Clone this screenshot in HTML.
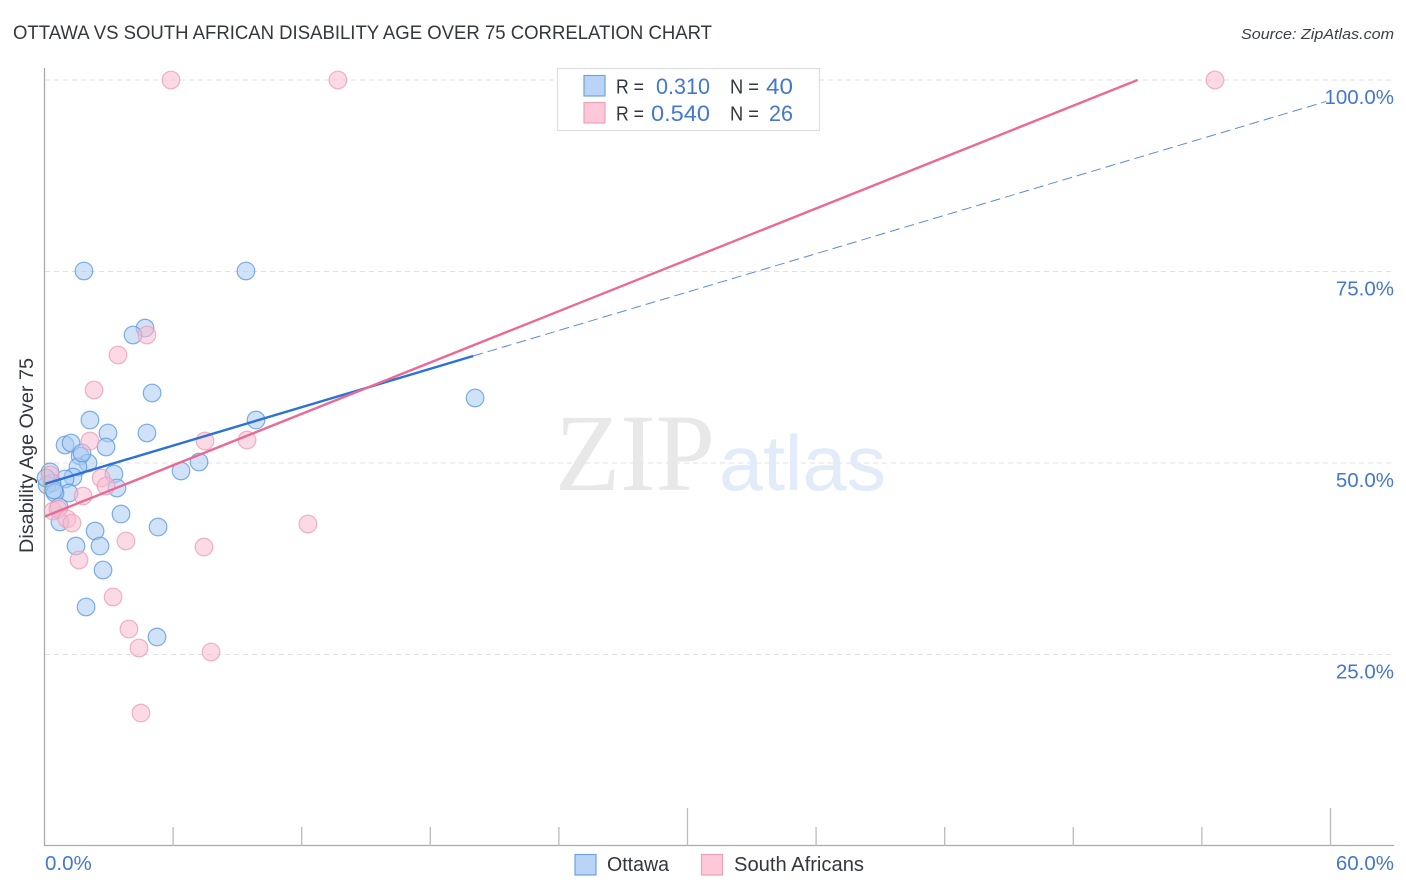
<!DOCTYPE html>
<html lang="en">
<head>
<meta charset="utf-8">
<title>Ottawa vs South African Disability Age Over 75 Correlation Chart</title>
<style>
html,body{margin:0;padding:0;background:#fff;width:1406px;height:892px;overflow:hidden}
svg{display:block}
text{font-family:"Liberation Sans",sans-serif}
</style>
</head>
<body>
<svg id="chart" width="1406" height="892" viewBox="0 0 1406 892" xmlns="http://www.w3.org/2000/svg">
  <text x="13" y="39" font-size="19" fill="#33373e" textLength="699" lengthAdjust="spacingAndGlyphs">OTTAWA VS SOUTH AFRICAN DISABILITY AGE OVER 75 CORRELATION CHART</text>
  <text x="1241" y="39" font-size="15" font-style="italic" fill="#3a3f46" textLength="153" lengthAdjust="spacingAndGlyphs">Source: ZipAtlas.com</text>

  <g id="grid"></g>

  <g>
    <text x="555" y="490" font-size="110" fill="#e8e8e8" style="font-family:'Liberation Serif',serif" textLength="160" lengthAdjust="spacingAndGlyphs">ZIP</text>
    <text x="719" y="490" font-size="78" fill="#e2ebf9" textLength="167" lengthAdjust="spacingAndGlyphs">atlas</text>
  </g>

  <g id="points"></g>
  <g id="trends"></g>
  <g id="axes"></g>
  <g id="ylabels"></g>
  <g id="xlabels"></g>

  <text transform="translate(33,553) rotate(-90)" font-size="19" fill="#33373e" textLength="195" lengthAdjust="spacingAndGlyphs">Disability Age Over 75</text>

  <g>
    <rect x="557.5" y="68.5" width="262" height="62" fill="#fff" fill-opacity="0.9" stroke="#dedede" stroke-width="1.2"/>
    <rect x="584" y="75.5" width="21" height="20.5" fill="#b9d4f6" stroke="#6ea3e4" stroke-width="1.2"/>
    <rect x="584" y="102.5" width="21" height="20.5" fill="#fec8d9" stroke="#f0a0b8" stroke-width="1.2"/>
    <text x="616" y="93.5" font-size="20" fill="#33373e" textLength="28" lengthAdjust="spacingAndGlyphs">R =</text>
    <text x="656" y="94" font-size="22" fill="#4477d0" textLength="54" lengthAdjust="spacingAndGlyphs">0.310</text>
    <text x="730" y="93.5" font-size="20" fill="#33373e" textLength="29" lengthAdjust="spacingAndGlyphs">N =</text>
    <text x="766" y="94" font-size="22" fill="#4477d0" textLength="27" lengthAdjust="spacingAndGlyphs">40</text>
    <text x="616" y="120.5" font-size="20" fill="#33373e" textLength="28" lengthAdjust="spacingAndGlyphs">R =</text>
    <text x="651" y="121" font-size="22" fill="#4477d0" textLength="59" lengthAdjust="spacingAndGlyphs">0.540</text>
    <text x="730" y="120.5" font-size="20" fill="#33373e" textLength="29" lengthAdjust="spacingAndGlyphs">N =</text>
    <text x="769" y="121" font-size="22" fill="#4477d0" textLength="24" lengthAdjust="spacingAndGlyphs">26</text>
  </g>

  <g>
    <g>
      <rect x="575" y="854.5" width="21" height="20.5" fill="#b9d4f6" stroke="#6ea3e4" stroke-width="1.2"/>
      <text x="607" y="871" font-size="20" fill="#33373e" textLength="62" lengthAdjust="spacingAndGlyphs">Ottawa</text>
    </g>
    <g>
      <rect x="701.5" y="854.5" width="21" height="20.5" fill="#fec8d9" stroke="#f0a0b8" stroke-width="1.2"/>
      <text x="734" y="871" font-size="20" fill="#33373e" textLength="130" lengthAdjust="spacingAndGlyphs">South Africans</text>
    </g>
  </g>
</svg>
<script>
// Data values (percent)
const ottawaX = [1.84,9.40,4.69,4.13,5.02,20.09,2.12,9.87,2.96,4.78,0.96,1.24,2.87,1.66,2.03,1.56,7.21,6.37,3.24,1.33,0.96,0.26,0.35,0.12,3.38,1.14,0.49,0.68,3.57,0.72,5.30,2.36,1.47,2.59,2.73,1.94,5.25,0.07,0.44,1.75];
const ottawaY = [75.07,75.07,67.62,66.71,59.14,58.49,55.61,55.61,53.92,53.92,52.35,52.61,52.09,50.91,50.00,49.48,50.13,48.96,48.56,48.17,47.91,48.83,47.39,47.13,46.74,46.08,46.08,44.26,43.34,42.30,41.64,41.12,39.16,39.16,36.03,31.20,27.28,48.04,46.48,51.31];
const southAfricansX = [5.90,13.69,54.61,4.78,3.43,2.31,2.12,7.49,9.45,0.26,2.64,2.87,1.80,0.40,0.63,1.05,1.28,12.29,3.80,7.44,1.61,3.20,3.94,4.41,7.77,4.50];
const southAfricansY = [100,100,100,66.71,64.10,59.53,52.87,52.87,53.00,48.43,48.04,47.00,45.69,43.73,43.99,42.69,42.17,42.04,39.82,39.03,37.34,32.51,28.33,25.85,25.33,17.36];
const ottawaTrendX = [0,20];
const ottawaTrendY = [47.26,63.97];
const ottawaDashX = [20,59.8];
const ottawaDashY = [63.97,97.2];
const southAfricansTrendX = [0,51];
const southAfricansTrendY = [43.0,100];
const yTicks = [100,75,50,25];
const yTickLabels = ["100.0%","75.0%","50.0%","25.0%"];
const xTicks = [6,12,18,24,30,36,42,48,54,60];
const xMajorTicks = [30,60];
const xEndLabels = ["0.0%","60.0%"];
const xEndValues = [0,60];

const NS = "http://www.w3.org/2000/svg";
function xScale(v){ return 44.5 + v * (1286 / 60); }
function yScale(v){ return 846 - v * 7.66; }
function make(tag, attrs, parent){
  const el = document.createElementNS(NS, tag);
  for (const k in attrs) el.setAttribute(k, attrs[k]);
  parent.appendChild(el);
  return el;
}

const grid = document.getElementById('grid');
yTicks.forEach(function(t){
  const l = make('line', {x1:45, x2:1393, y1:yScale(t), y2:yScale(t), stroke:'#e0e0e0', 'stroke-width':1, 'stroke-dasharray':'5 4'}, grid);
  
  
});

const pts = document.getElementById('points');
function drawPoints(xs, ys, fill, stroke, name){
  xs.forEach(function(x, i){
    const c = make('circle', {cx:xScale(x), cy:yScale(ys[i]), r:8.8, fill:fill, 'fill-opacity':0.55, stroke:stroke, 'stroke-opacity':0.8, 'stroke-width':1.2}, pts);
    
    
  });
}
drawPoints(ottawaX, ottawaY, '#a9caf3', '#5f9ae2', 'ottawa-point');
drawPoints(southAfricansX, southAfricansY, '#fabccf', '#ef9db7', 'south-africans-point');

const trends = document.getElementById('trends');
const dash = make('line', {x1:xScale(ottawaDashX[0]), y1:yScale(ottawaDashY[0]), x2:xScale(ottawaDashX[1]), y2:yScale(ottawaDashY[1]), stroke:'#5d8bd6', 'stroke-width':1, 'stroke-dasharray':'10 5'}, trends);


const blue = make('line', {x1:xScale(ottawaTrendX[0]), y1:yScale(ottawaTrendY[0]), x2:xScale(ottawaTrendX[1]), y2:yScale(ottawaTrendY[1]), stroke:'#2b72d8', 'stroke-width':2.4}, trends);


const pink = make('line', {x1:xScale(southAfricansTrendX[0]), y1:yScale(southAfricansTrendY[0]), x2:xScale(southAfricansTrendX[1]), y2:yScale(southAfricansTrendY[1]), stroke:'#e96a96', 'stroke-width':2.4}, trends);



const axes = document.getElementById('axes');
const yAxis = make('line', {x1:44.5, x2:44.5, y1:68, y2:846, stroke:'#aaaaaa', 'stroke-width':1.3}, axes);


const xAxis = make('line', {x1:44, x2:1394, y1:845.5, y2:845.5, stroke:'#aaaaaa', 'stroke-width':1.3}, axes);


xTicks.forEach(function(t){
  const major = xMajorTicks.indexOf(t) >= 0;
  const k = make('line', {x1:xScale(t), x2:xScale(t), y1:major ? 808 : 827, y2:846, stroke:'#bbbbbb', 'stroke-width':1.3}, axes);
  
  
});

const yl = document.getElementById('ylabels');
yTicks.forEach(function(t, i){
  const tx = make('text', {x:1394, y:yScale(t) + 24, 'text-anchor':'end', 'font-size':20.5, fill:'#4477d0'}, yl);
  
  
  tx.textContent = yTickLabels[i];
});

const xl = document.getElementById('xlabels');
xEndValues.forEach(function(v, i){
  const tx = make('text', {x: i === 0 ? 45 : 1394, y:870, 'text-anchor': i === 0 ? 'start' : 'end', 'font-size':20.5, fill:'#4477d0'}, xl);
  
  
  tx.textContent = xEndLabels[i];
});
</script>
</body>
</html>
